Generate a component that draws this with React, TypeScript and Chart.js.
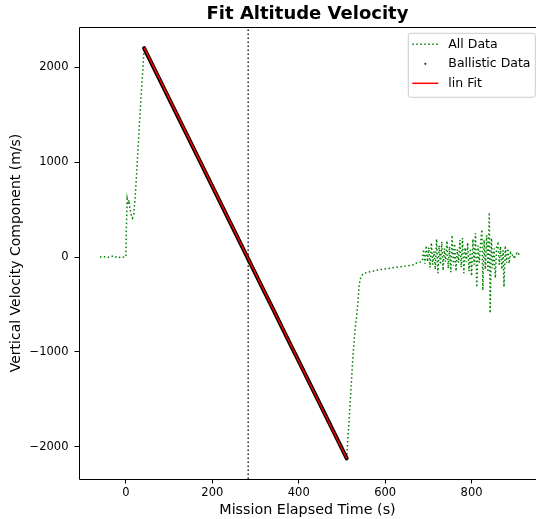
import React, { useEffect, useRef } from 'react';
import { Chart, registerables } from 'chart.js';

Chart.register(...registerables);

// ---- data ----
const preLaunchTime = [-60, -55, -50, -45, -40, -35, -30, -25, -20, -15, -10, -5, 0];
const preLaunchVel = [3, -4, 2, 6, -3, 5, 10, -2, 6, -4, 4, -1, 2];

const ascentTime = [1, 3, 5, 7, 9, 11, 13, 15, 18, 21, 24, 27, 31, 35, 39, 42];
const ascentVel = [300, 610, 560, 600, 520, 470, 430, 410, 450, 600, 820, 1060, 1380, 1690, 1960, 2200];

const ballisticTime = [42, 62, 82, 102, 122, 142, 162, 182, 202, 222, 242, 262, 282, 302, 322, 342, 362, 382, 402, 422, 442, 462, 482, 502, 511];
const ballisticVel = [2200, 2016, 1832, 1647, 1463, 1279, 1095, 911, 726, 542, 358, 174, -11, -195, -379, -563, -748, -932, -1116, -1300, -1484, -1669, -1853, -2037, -2120];

const recoveryTime = [514, 518, 522, 526, 530, 534, 537, 540, 543, 548, 553, 565, 580, 595, 610, 625, 640, 655, 665, 670, 678, 684];
const recoveryVel = [-1900, -1600, -1300, -1010, -780, -620, -470, -290, -220, -180, -168, -155, -140, -128, -118, -108, -98, -90, -82, -65, -60, -48];

const noiseTime = [686, 689, 692, 695, 698, 701, 704, 707, 710, 713, 716, 719, 722, 725, 728, 731, 734, 737, 740, 743, 746, 749, 752, 755, 758, 761, 764, 767, 770, 773, 776, 779, 782, 785, 788, 791, 794, 797, 800, 803, 806, 809, 812, 815, 818, 821, 824, 826, 829, 832, 835, 838, 841, 843, 846, 849, 852, 855, 858, 861, 864, 867, 870, 873, 875, 878, 881, 884, 887, 890, 893, 896, 899, 902, 905, 908, 911];
const noiseVel = [-40, 80, -70, 120, -50, 100, -110, 150, -80, 60, -130, 190, -170, 120, -80, 160, -140, 90, -50, 170, -120, 110, -160, 230, -90, 140, -150, 80, -60, 180, -110, 200, -170, 100, -50, 150, -150, 90, -200, 190, -80, 250, -320, 120, -60, 160, 290, -350, 180, -130, 230, -160, 470, -590, 200, -120, 90, -220, 120, 140, -80, 110, -130, 70, -315, 120, -60, 90, -70, 40, 10, 30, -20, 25, 40, 20, 50];

const fitTime = [42, 511];
const fitVel = [2205, -2122];

const splitTime = 283;

const xTicks = [0, 200, 400, 600, 800];
const yTicks = [-2000, -1000, 0, 1000, 2000];
const xRange = [-108.6, 949.1];
const yRange = [-2338, 2423];

const legendLabels = ['All Data', 'Ballistic Data', 'lin Fit'];
const titleText = 'Fit Altitude Velocity';
const xTitle = 'Mission Elapsed Time (s)';
const yTitle = 'Vertical Velocity Component (m/s)';

const FONT = '"DejaVu Sans", sans-serif';

const toPoints = (xs: number[], ys: number[]) => xs.map((x, i) => ({ x, y: ys[i] }));

const decorPlugin = {
  id: 'decor',
  beforeDatasetsDraw(chart: any) {
    const { ctx, chartArea: a, scales } = chart;
    const x = scales.x.getPixelForValue(splitTime);
    ctx.save();
    ctx.strokeStyle = '#222';
    ctx.lineWidth = 1.5;
    ctx.setLineDash([1.5, 2.5]);
    ctx.beginPath();
    ctx.moveTo(x, a.bottom);
    ctx.lineTo(x, a.top);
    ctx.stroke();
    ctx.restore();
  },
  afterDraw(chart: any) {
    const { ctx, chartArea: a } = chart;
    ctx.save();
    // spines (right spine lies beyond the canvas edge)
    ctx.strokeStyle = '#000';
    ctx.lineWidth = 1;
    ctx.setLineDash([]);
    ctx.beginPath();
    ctx.moveTo(a.right + 1, a.top + 0.5);
    ctx.lineTo(a.left + 0.5, a.top + 0.5);
    ctx.lineTo(a.left + 0.5, a.bottom + 0.5);
    ctx.lineTo(a.right + 1, a.bottom + 0.5);
    ctx.stroke();

    // legend
    const fs = 12.5;
    const w = 127;
    const h = 64;
    const right = a.right - 0.7;
    const left = right - w;
    const top = a.top + 6.3;
    const r = 2.5;
    ctx.beginPath();
    ctx.moveTo(left + r, top);
    ctx.lineTo(left + w - r, top);
    ctx.quadraticCurveTo(left + w, top, left + w, top + r);
    ctx.lineTo(left + w, top + h - r);
    ctx.quadraticCurveTo(left + w, top + h, left + w - r, top + h);
    ctx.lineTo(left + r, top + h);
    ctx.quadraticCurveTo(left, top + h, left, top + h - r);
    ctx.lineTo(left, top + r);
    ctx.quadraticCurveTo(left, top, left + r, top);
    ctx.closePath();
    ctx.fillStyle = 'rgba(255,255,255,0.8)';
    ctx.fill();
    ctx.strokeStyle = '#cccccc';
    ctx.lineWidth = 1;
    ctx.stroke();

    const hx0 = left + 4;
    const hx1 = left + 30;
    const tx = left + 40;
    ctx.font = `${fs}px ${FONT}`;
    ctx.textBaseline = 'middle';
    ctx.textAlign = 'left';
    legendLabels.forEach((label, i) => {
      const y = top + 11 + i * 19.5;
      if (i === 0) {
        ctx.strokeStyle = '#008000';
        ctx.lineWidth = 1.5;
        ctx.setLineDash([1.5, 2.5]);
        ctx.beginPath();
        ctx.moveTo(hx0, y);
        ctx.lineTo(hx1, y);
        ctx.stroke();
      } else if (i === 1) {
        ctx.fillStyle = '#333';
        ctx.beginPath();
        ctx.arc((hx0 + hx1) / 2, y, 1.1, 0, Math.PI * 2);
        ctx.fill();
      } else {
        ctx.strokeStyle = '#ff0000';
        ctx.lineWidth = 1.5;
        ctx.setLineDash([]);
        ctx.beginPath();
        ctx.moveTo(hx0, y);
        ctx.lineTo(hx1, y);
        ctx.stroke();
      }
      ctx.fillStyle = '#000';
      ctx.fillText(label, tx, y);
    });
    ctx.restore();
  },
};

export default function App() {
  const ref = useRef<HTMLCanvasElement | null>(null);

  useEffect(() => {
    if (!ref.current) return;
    const allTime = [...preLaunchTime, ...ascentTime.slice(0, -1), ...ballisticTime, ...recoveryTime, ...noiseTime];
    const allVel = [...preLaunchVel, ...ascentVel.slice(0, -1), ...ballisticVel, ...recoveryVel, ...noiseVel];

    const chart = new Chart(ref.current, {
      type: 'line',
      data: {
        datasets: [
          {
            label: legendLabels[0],
            data: toPoints(allTime, allVel),
            borderColor: '#008000',
            borderWidth: 1.5,
            borderDash: [1.5, 2.5],
            pointRadius: 0,
            fill: false,
            tension: 0,
            order: 3,
          },
          {
            label: legendLabels[1],
            data: toPoints(ballisticTime, ballisticVel),
            borderColor: '#000000',
            borderWidth: 4,
            borderCapStyle: 'round',
            pointRadius: 0,
            fill: false,
            tension: 0,
            order: 2,
          },
          {
            label: legendLabels[2],
            data: toPoints(fitTime, fitVel),
            borderColor: '#ff0000',
            borderWidth: 1.5,
            pointRadius: 0,
            fill: false,
            tension: 0,
            order: 1,
          },
        ],
      },
      options: {
        animation: false,
        responsive: false,
        maintainAspectRatio: false,
        parsing: false as any,
        layout: { padding: { left: 0, right: 0, top: 0, bottom: 0 } },
        plugins: {
          legend: { display: false },
          tooltip: { enabled: false },
          title: {
            display: true,
            text: titleText,
            fullSize: false,
            color: '#000',
            font: { family: FONT, size: 18, weight: 'bold', lineHeight: 1.2 },
            padding: { top: 3.5, bottom: 1.9 },
          },
        },
        scales: {
          x: {
            type: 'linear',
            min: xRange[0],
            max: xRange[1],
            afterBuildTicks: (scale: any) => {
              scale.ticks = xTicks.map((v) => ({ value: v }));
            },
            afterFit: (scale: any) => {
              scale.height = 40;
            },
            grid: { drawOnChartArea: false, drawTicks: true, tickLength: 4.5, color: '#000', tickColor: '#000' },
            border: { display: false },
            ticks: {
              color: '#000',
              font: { family: FONT, size: 11.5 },
              padding: 3,
              maxRotation: 0,
              callback: (v: any) => String(v),
            },
            title: {
              display: true,
              text: xTitle,
              color: '#000',
              font: { family: FONT, size: 14.3, lineHeight: 1.2 },
              padding: { top: 0, bottom: 0 },
            },
          },
          y: {
            type: 'linear',
            min: yRange[0],
            max: yRange[1],
            afterBuildTicks: (scale: any) => {
              scale.ticks = yTicks.map((v) => ({ value: v }));
            },
            afterFit: (scale: any) => {
              scale.width = 79;
            },
            grid: { drawOnChartArea: false, drawTicks: true, tickLength: 4.5, color: '#000', tickColor: '#000' },
            border: { display: false },
            ticks: {
              color: '#000',
              font: { family: FONT, size: 11.5 },
              padding: 6,
              callback: (v: any) => (v < 0 ? '\u2212' + Math.abs(v) : String(v)),
            },
            title: {
              display: true,
              text: yTitle,
              color: '#000',
              font: { family: FONT, size: 14, lineHeight: 1.2 },
              padding: { top: 7.5, bottom: 0 },
            },
          },
        },
      },
      plugins: [decorPlugin],
    });
    return () => chart.destroy();
  }, []);

  return (
    <div style={{ position: 'fixed', left: 0, top: 0, width: 536, height: 519, background: '#fff' }}>
      <canvas ref={ref} width={536} height={519} style={{ display: 'block', width: 536, height: 519 }} />
    </div>
  );
}
